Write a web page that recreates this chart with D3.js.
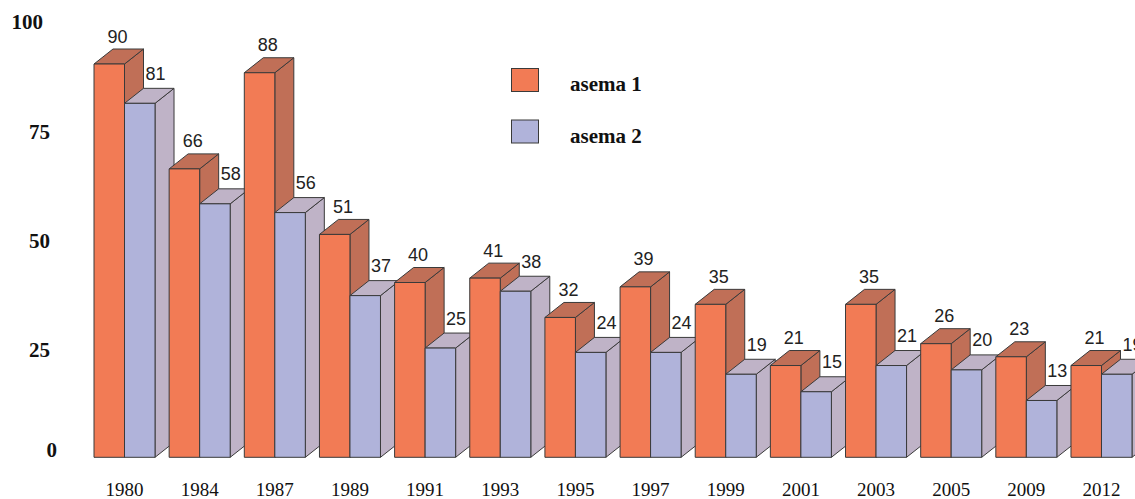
<!DOCTYPE html>
<html>
<head>
<meta charset="utf-8">
<script src="https://cdn.jsdelivr.net/npm/d3@7"></script>
<style>
  html, body { margin: 0; padding: 0; background: #fff; }
  svg { display: block; }
</style>
</head>
<body>
<script>
// Years shown along the bottom
const years = ["1980","1984","1987","1989","1991","1993","1995","1997","1999","2001","2003","2005","2009","2012"];
// Values for each station
const asema1 = [90, 66, 88, 51, 40, 41, 32, 39, 35, 21, 35, 26, 23, 21];
const asema2 = [81, 58, 56, 37, 25, 38, 24, 24, 19, 15, 21, 20, 13, 19];
const seriesNames = ["asema 1", "asema 2"];
const yTicks = [0, 25, 50, 75, 100];

const W = 1135, H = 499;
const depthX = 19, depthY = -15;

const palette = [
  { front: "#F27B55", side: "#C06F57", top: "#C06F57" },
  { front: "#B0B3DA", side: "#BFB3C7", top: "#BFB3C7" }
];

const svg = d3.select("body").append("svg").attr("width", W).attr("height", H);

const y = d3.scaleLinear().domain([0, 100]).range([457.3, 20.3]);
const x0 = d3.scaleBand().domain(years).range([94, 1132]).paddingInner(0.188).paddingOuter(0);
const x1 = d3.scaleBand().domain(seriesNames).range([0, x0.bandwidth()]).padding(0);

const rows = years.map((yr, i) => ({ year: yr, values: [asema1[i], asema2[i]] }));

// 3D bars, drawn left to right so nearer faces overlap correctly
const bars = svg.append("g").attr("stroke", "#3a3a3a").attr("stroke-width", 1).attr("stroke-linejoin", "round");
rows.forEach(r => {
  r.values.forEach((v, s) => {
    const xl = x0(r.year) + x1(seriesNames[s]);
    const xr = xl + x1.bandwidth();
    const yt = y(v), yb = y(0);
    const c = palette[s];
    const g = bars.append("g");
    // side face
    g.append("path")
      .attr("d", `M${xr},${yb}L${xr + depthX},${yb + depthY}L${xr + depthX},${yt + depthY}L${xr},${yt}Z`)
      .attr("fill", c.side);
    // top face
    g.append("path")
      .attr("d", `M${xl},${yt}L${xl + depthX},${yt + depthY}L${xr + depthX},${yt + depthY}L${xr},${yt}Z`)
      .attr("fill", c.top);
    // front face
    g.append("rect")
      .attr("x", xl).attr("y", yt)
      .attr("width", xr - xl).attr("height", yb - yt)
      .attr("fill", c.front);
  });
});

// value labels above each bar
const labelShift = [{ dx: 13.5, dy: 6.5 }, { dx: 21, dy: 8.5 }];
const labels = svg.append("g")
  .attr("font-family", "'Liberation Sans', Arial, sans-serif")
  .attr("font-size", 18)
  .attr("fill", "#222");
rows.forEach(r => {
  r.values.forEach((v, s) => {
    const xl = x0(r.year) + x1(seriesNames[s]);
    labels.append("text")
      .attr("x", xl + labelShift[s].dx)
      .attr("y", y(v) + depthY - labelShift[s].dy)
      .text(v);
  });
});

// value axis labels
const yAxis = svg.append("g")
  .attr("font-family", "'Liberation Serif', 'Times New Roman', serif")
  .attr("font-weight", "bold")
  .attr("font-size", 21)
  .attr("fill", "#111");
yTicks.forEach(t => {
  const xr = t === 100 ? 43 : (t === 0 ? 57 : 50);
  const base = t === 0 ? y(t) : y(t) + 9;
  yAxis.append("text").attr("x", xr).attr("y", base).attr("text-anchor", "end").text(t);
});

// year labels
const xAxis = svg.append("g")
  .attr("font-family", "'Liberation Serif', 'Times New Roman', serif")
  .attr("font-size", 19)
  .attr("fill", "#111");
years.forEach(yr => {
  xAxis.append("text")
    .attr("x", x0(yr) + x0.bandwidth() / 2)
    .attr("y", 496)
    .attr("text-anchor", "middle")
    .text(yr);
});

// legend
const legend = svg.append("g");
seriesNames.forEach((name, s) => {
  const top = 68.5 + s * 51.5;
  legend.append("rect")
    .attr("x", 511.5).attr("y", top)
    .attr("width", 27).attr("height", 23)
    .attr("fill", palette[s].front)
    .attr("stroke", "#3a3a3a").attr("stroke-width", 1);
  legend.append("text")
    .attr("x", 570).attr("y", top + 22.5)
    .attr("font-family", "'Liberation Serif', 'Times New Roman', serif")
    .attr("font-weight", "bold")
    .attr("font-size", 21)
    .attr("fill", "#111")
    .text(name);
});
</script>
</body>
</html>
